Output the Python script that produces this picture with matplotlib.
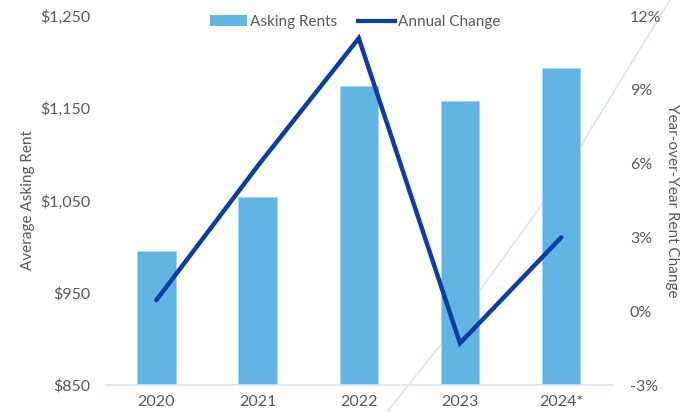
import matplotlib
matplotlib.use("Agg")
import matplotlib.pyplot as plt
import matplotlib.ticker as ticker
from matplotlib.lines import Line2D
from matplotlib.patches import Patch

# --- Data ---
YEARS = ['2020', '2021', '2022', '2023', '2024*']
ASKING_RENTS = [995, 1054, 1174, 1158, 1194]        # average asking rent ($)
ANNUAL_CHANGE = [0.45, 5.9, 11.1, -1.3, 3.0]         # year-over-year change (%)
RENT_TICKS = [850, 950, 1050, 1150, 1250]
CHANGE_TICKS = [-3, 0, 3, 6, 9, 12]

# --- Style ---
BAR_COLOR = '#62B4E4'
LINE_COLOR = '#0A3EA0'
TEXT_COLOR = '#595959'
AXIS_COLOR = '#D9E5F3'
FONT = ['Lato', 'DejaVu Sans']

plt.rcParams['font.family'] = FONT

fig = plt.figure(figsize=(6.96, 4.12), dpi=100)
ax = fig.add_axes([0.152, 0.0655, 0.727, 0.8955])
ax.set_facecolor('none')

# faint decorative arc running behind the bars
arc_x = [387 / 696, 442 / 696, 543 / 696, 580 / 696, 670 / 696, 680 / 696]
arc_y = [0.0, 69 / 412, 209 / 412, 265 / 412, 412 / 412, 428 / 412]
fig.lines.append(Line2D(arc_x, arc_y, transform=fig.transFigure,
                        color='#DDE5F2', lw=1.3, zorder=-1))

x = range(len(YEARS))
ax.bar(x, [r - 850 for r in ASKING_RENTS], bottom=850, width=0.38,
       color=BAR_COLOR, edgecolor='#A8D4F0', linewidth=0.6, zorder=2)
ax.set_xlim(-0.5, len(YEARS) - 0.5)
ax.set_ylim(850, 1250)
ax.set_yticks(RENT_TICKS)
ax.yaxis.set_major_formatter(ticker.FuncFormatter(lambda v, p: f'${v:,.0f}'))
ax.set_xticks(list(x))
ax.set_xticklabels(YEARS)
ax.set_ylabel('Average Asking Rent', color=TEXT_COLOR, fontsize=11, labelpad=4)

ax2 = ax.twinx()
ax2.plot(list(x), ANNUAL_CHANGE, color=LINE_COLOR, lw=3.2,
         solid_capstyle='round', solid_joinstyle='miter', zorder=3)
ax2.set_ylim(-3, 12)
ax2.set_yticks(CHANGE_TICKS)
ax2.yaxis.set_major_formatter(ticker.FuncFormatter(lambda v, p: f'{v:.0f}%'))
ax2.set_ylabel('Year-over-Year Rent Change', color=TEXT_COLOR, fontsize=11,
               rotation=270, labelpad=13)

for a in (ax, ax2):
    for s in a.spines.values():
        s.set_visible(False)
    a.tick_params(length=0, labelsize=11.5, colors=TEXT_COLOR)
ax.spines['bottom'].set_visible(True)
ax.spines['bottom'].set_color(AXIS_COLOR)
ax.spines['bottom'].set_linewidth(1.2)
ax.tick_params(axis='y', pad=11)
ax.tick_params(axis='x', pad=7)
ax2.tick_params(axis='y', pad=13)

handles = [Patch(facecolor=BAR_COLOR, edgecolor='none'),
           Line2D([0], [0], color=LINE_COLOR, lw=3)]
fig.legend(handles, ['Asking Rents', 'Annual Change'], loc='center',
           bbox_to_anchor=(355 / 696, 1 - 22 / 412), ncol=2, frameon=False,
           fontsize=11, labelcolor=TEXT_COLOR, handlelength=2.4,
           handletextpad=0.2, columnspacing=1.4)

fig.savefig('out.png', dpi=100)
